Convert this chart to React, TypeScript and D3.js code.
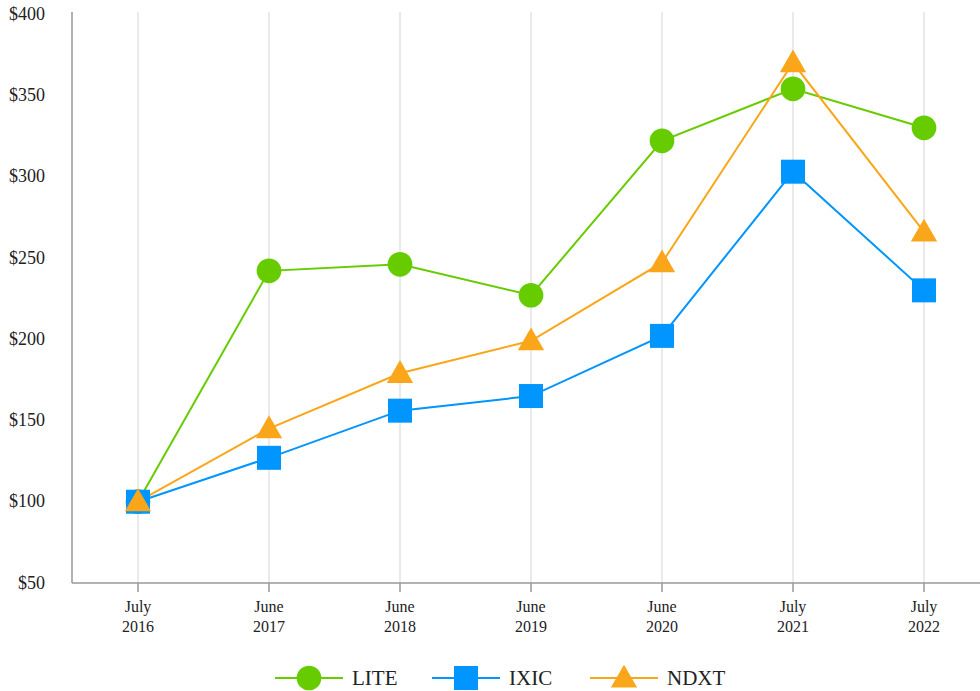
import React, { useEffect, useRef } from 'react';
import * as d3 from 'd3';

const periods = [
  ['July', '2016'],
  ['June', '2017'],
  ['June', '2018'],
  ['June', '2019'],
  ['June', '2020'],
  ['July', '2021'],
  ['July', '2022'],
];
const lite = [100, 242, 246, 227, 322, 354, 330];
const ixic = [100, 127, 156, 165, 202, 303, 230];
const ndxt = [100, 145, 179, 199, 247, 370, 266];
const yTicks = [50, 100, 150, 200, 250, 300, 350, 400];

const series = [
  { name: 'LITE', values: lite, color: '#66cc00', shape: 'circle' },
  { name: 'IXIC', values: ixic, color: '#0095ff', shape: 'square' },
  { name: 'NDXT', values: ndxt, color: '#f9a61a', shape: 'triangle' },
];

const symbolFor = (shape: string) =>
  shape === 'circle'
    ? d3.symbol(d3.symbolCircle, 480)
    : shape === 'square'
    ? d3.symbol(d3.symbolSquare, 576)
    : d3.symbol(d3.symbolTriangle, 300);

const App = () => {
  const svgRef = useRef<SVGSVGElement>(null);

  useEffect(() => {
    const width = 980;
    const height = 691;
    const margin = { top: 14, right: 0, bottom: 108, left: 72 };
    const font = '"Liberation Serif", "Times New Roman", serif';

    const svg = d3.select(svgRef.current);
    svg.selectAll('*').remove();
    svg.attr('width', width).attr('height', height).style('font-family', font);

    const x = d3
      .scalePoint<number>()
      .domain(d3.range(periods.length))
      .range([138, 924]);
    const y = d3
      .scaleLinear()
      .domain([50, 400])
      .range([height - margin.bottom, margin.top]);

    // gridlines
    svg
      .append('g')
      .selectAll('line')
      .data(d3.range(periods.length))
      .join('line')
      .attr('x1', (d) => x(d)!)
      .attr('x2', (d) => x(d)!)
      .attr('y1', y(400) - 2)
      .attr('y2', y(50))
      .attr('stroke', '#e3e3e3')
      .attr('stroke-width', 1.5);

    // y axis
    svg
      .append('line')
      .attr('x1', margin.left)
      .attr('x2', margin.left)
      .attr('y1', y(400) - 2)
      .attr('y2', y(50))
      .attr('stroke', '#999')
      .attr('stroke-width', 1.5);
    svg
      .append('g')
      .selectAll('text')
      .data(yTicks)
      .join('text')
      .attr('x', 45)
      .attr('y', (d) => y(d))
      .attr('dy', '0.32em')
      .attr('text-anchor', 'end')
      .attr('font-size', 18)
      .attr('fill', '#222')
      .text((d) => `$${d}`);

    // x axis
    svg
      .append('line')
      .attr('x1', margin.left)
      .attr('x2', width)
      .attr('y1', y(50))
      .attr('y2', y(50))
      .attr('stroke', '#999')
      .attr('stroke-width', 1.5);
    const xt = svg
      .append('g')
      .selectAll('g')
      .data(periods)
      .join('g')
      .attr('transform', (_, i) => `translate(${x(i)},${y(50)})`);
    xt.append('line').attr('y2', 9).attr('stroke', '#999').attr('stroke-width', 1.5);
    xt.append('text')
      .attr('y', 29)
      .attr('text-anchor', 'middle')
      .attr('font-size', 16)
      .attr('fill', '#222')
      .text((d) => d[0]);
    xt.append('text')
      .attr('y', 49)
      .attr('text-anchor', 'middle')
      .attr('font-size', 16)
      .attr('fill', '#222')
      .text((d) => d[1]);

    // lines
    const line = d3
      .line<number>()
      .x((_, i) => x(i)!)
      .y((d) => y(d));
    series.forEach((s) => {
      svg
        .append('path')
        .datum(s.values)
        .attr('d', line)
        .attr('fill', 'none')
        .attr('stroke', s.color)
        .attr('stroke-width', 2);
    });
    series.forEach((s) => {
      svg
        .append('g')
        .selectAll('path')
        .data(s.values)
        .join('path')
        .attr('transform', (d, i) => `translate(${x(i)},${y(d) + (s.shape === 'triangle' ? 2 : 0)})`)
        .attr('d', symbolFor(s.shape)()!)
        .attr('fill', s.color);
    });

    // legend
    const legendX = [275, 432, 590];
    const lg = svg
      .append('g')
      .selectAll('g')
      .data(series)
      .join('g')
      .attr('transform', (_, i) => `translate(${legendX[i]},678)`);
    lg.append('line')
      .attr('x1', 0)
      .attr('x2', 68)
      .attr('stroke', (d) => d.color)
      .attr('stroke-width', 2);
    lg.append('path')
      .attr('transform', (d) => `translate(34,${d.shape === 'triangle' ? 2 : 0})`)
      .attr('d', (d) => symbolFor(d.shape)()!)
      .attr('fill', (d) => d.color);
    lg.append('text')
      .attr('x', 77)
      .attr('dy', '0.35em')
      .attr('font-size', 21)
      .attr('fill', '#222')
      .text((d) => d.name);
  }, []);

  return <svg ref={svgRef} style={{ position: 'absolute', left: 0, top: 0 }} />;
};

export default App;
